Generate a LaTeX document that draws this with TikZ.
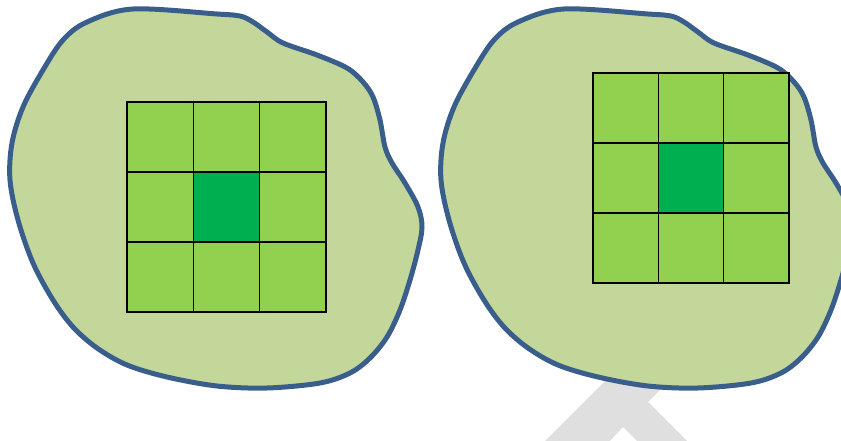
\documentclass[tikz,border=0pt]{standalone}
\definecolor{blobfill}{HTML}{C4D79B}
\definecolor{blobline}{HTML}{3A5E8C}
\definecolor{cellgreen}{HTML}{92D050}
\definecolor{cellcenter}{HTML}{00B050}
\definecolor{wmgray}{HTML}{DFDFDF}
\tikzset{
  blob/.style={fill=blobfill, draw=blobline, line width=5pt},
  gridline/.style={draw=black, line width=1.2pt},
}
\newcommand{\blobpath}{plot[smooth cycle, tension=0.55] coordinates {
 (133,9) (217,14) (240,16) (253,22) (267,32) (283,43) (317,55) (347,68) (363,82)
 (373,97) (380,120) (385,147) (392,163) (405,183) (418,207) (422,227) (418,250)
 (410,280) (400,310) (387,337) (370,358) (350,373) (320,383) (267,388) (217,386)
 (167,377) (127,365) (97,348) (73,327) (53,300) (33,263) (18,220) (10,180)
 (12,143) (23,107) (43,70) (63,40) (87,22)}}
\begin{document}
\begin{tikzpicture}[x=1pt,y=-1pt]
\useasboundingbox (0,0) rectangle (841,441);
\clip (0,0) rectangle (841,441);
% watermark
\fill[wmgray] (545,441) -- (610,376) -- (674,376) -- (648,402) -- (687,441)
  -- (637,441) -- (623,427) -- (610,441) -- cycle;
% left blob
\draw[blob] \blobpath;
% right blob
\begin{scope}[xshift=431pt]
\draw[blob] \blobpath;
\end{scope}
% left grid
\fill[cellgreen] (127,102) rectangle (326,312);
\fill[cellcenter] (193.33,172) rectangle (259.67,242);
\draw[gridline] (127,102) rectangle (326,312);
\draw[gridline] (193.33,102) -- (193.33,312) (259.67,102) -- (259.67,312)
  (127,172) -- (326,172) (127,242) -- (326,242);
% right grid
\fill[cellgreen] (593,73) rectangle (789,283);
\fill[cellcenter] (658.33,143) rectangle (723.67,213);
\draw[gridline] (593,73) rectangle (789,283);
\draw[gridline] (658.33,73) -- (658.33,283) (723.67,73) -- (723.67,283)
  (593,143) -- (789,143) (593,213) -- (789,213);
\end{tikzpicture}
\end{document}
